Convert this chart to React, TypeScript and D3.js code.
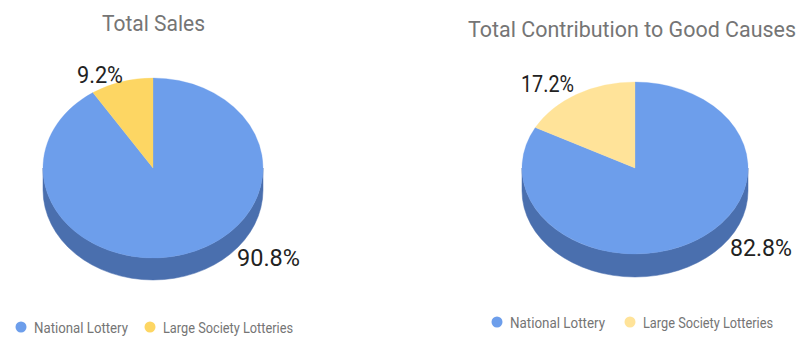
import React from "react";
import * as d3 from "d3";

const categories = ["National Lottery", "Large Society Lotteries"];
const salesValues = [90.8, 9.2];
const goodCausesValues = [82.8, 17.2];
const titles = ["Total Sales", "Total Contribution to Good Causes"];

type ChartCfg = {
  title: string;
  values: number[];
  colors: string[];
  sideColors: string[];
  cx: number; cy: number; rx: number; ry: number; depth: number;
  titleX: number; titleY: number; titleW: number;
  bigLabel: [number, number]; bigW: number;
  smallLabel: [number, number]; smallW: number;
  legendX: number[]; legendY: number; legendW: number[];
};

const charts: ChartCfg[] = [
  {
    title: titles[0], values: salesValues,
    colors: ["#6d9eeb", "#fdd663"], sideColors: ["#4a6fae", "#c9a840"],
    cx: 153, cy: 168, rx: 110, ry: 90, depth: 22,
    titleX: 102, titleY: 31, titleW: 103,
    bigLabel: [237, 266], bigW: 63,
    smallLabel: [123, 83], smallW: 46,
    legendX: [21, 150], legendY: 327, legendW: [94, 130],
  },
  {
    title: titles[1], values: goodCausesValues,
    colors: ["#6d9eeb", "#ffe399"], sideColors: ["#4a6fae", "#c9b070"],
    cx: 635, cy: 168, rx: 113, ry: 86, depth: 23,
    titleX: 468, titleY: 37, titleW: 328,
    bigLabel: [730, 256], bigW: 62,
    smallLabel: [574, 92], smallW: 53,
    legendX: [497, 630], legendY: 322, legendW: [95, 130],
  },
];

function Pie3D({ c }: { c: ChartCfg }) {
  const pie = d3.pie<number>().sort(null).value((d) => d);
  const arcs = pie(c.values);
  const pt = (a: number, dy = 0) => [c.cx + c.rx * Math.sin(a), c.cy - c.ry * Math.cos(a) + dy];
  const fmt = (v: number) => d3.format(".1f")(v) + "%";

  const sides: { d: string; color: string }[] = [];
  arcs.forEach((a, i) => {
    const s = Math.max(a.startAngle, Math.PI / 2);
    const e = Math.min(a.endAngle, (3 * Math.PI) / 2);
    if (e > s) {
      const p0 = pt(s), p1 = pt(e), q1 = pt(e, c.depth), q0 = pt(s, c.depth);
      const d = `M${p0[0]},${p0[1]} A${c.rx},${c.ry} 0 0 1 ${p1[0]},${p1[1]} L${q1[0]},${q1[1]} A${c.rx},${c.ry} 0 0 0 ${q0[0]},${q0[1]} Z`;
      sides.push({ d, color: c.sideColors[i] });
    }
  });

  const top = arcs.map((a, i) => {
    const p0 = pt(a.startAngle), p1 = pt(a.endAngle);
    const large = a.endAngle - a.startAngle > Math.PI ? 1 : 0;
    const d = `M${c.cx},${c.cy} L${p0[0]},${p0[1]} A${c.rx},${c.ry} 0 ${large} 1 ${p1[0]},${p1[1]} Z`;
    return { d, color: c.colors[i] };
  });

  const bigIdx = c.values[0] >= c.values[1] ? 0 : 1;
  const smallIdx = 1 - bigIdx;

  return (
    <g>
      <text x={c.titleX} y={c.titleY} fontSize={22} fill="#757575" fontFamily="Roboto"
        textLength={c.titleW} lengthAdjust="spacingAndGlyphs">{c.title}</text>
      {sides.map((s, i) => <path key={"s" + i} d={s.d} fill={s.color} stroke={s.color} strokeWidth={0.5} />)}
      {top.map((t, i) => <path key={"t" + i} d={t.d} fill={t.color} stroke={t.color} strokeWidth={0.3} />)}
      <text x={c.bigLabel[0]} y={c.bigLabel[1]} fontSize={24} fill="#222" fontFamily="Roboto"
        textLength={c.bigW} lengthAdjust="spacingAndGlyphs">{fmt(c.values[bigIdx])}</text>
      <text x={c.smallLabel[0]} y={c.smallLabel[1]} fontSize={24} fill="#222" fontFamily="Roboto"
        textAnchor="end" textLength={c.smallW} lengthAdjust="spacingAndGlyphs">{fmt(c.values[smallIdx])}</text>
      {categories.map((cat, i) => (
        <g key={cat}>
          <circle cx={c.legendX[i]} cy={c.legendY} r={5.5} fill={c.colors[i]} />
          <text x={c.legendX[i] + 13} y={c.legendY + 6} fontSize={14} fill="#757575" fontFamily="Roboto"
            textLength={c.legendW[i]} lengthAdjust="spacingAndGlyphs">{cat}</text>
        </g>
      ))}
    </g>
  );
}

export default function App() {
  return (
    <svg width={804} height={338} style={{ position: "absolute", left: 0, top: 0, background: "#fff" }}>
      {charts.map((c) => <Pie3D key={c.title} c={c} />)}
    </svg>
  );
}
